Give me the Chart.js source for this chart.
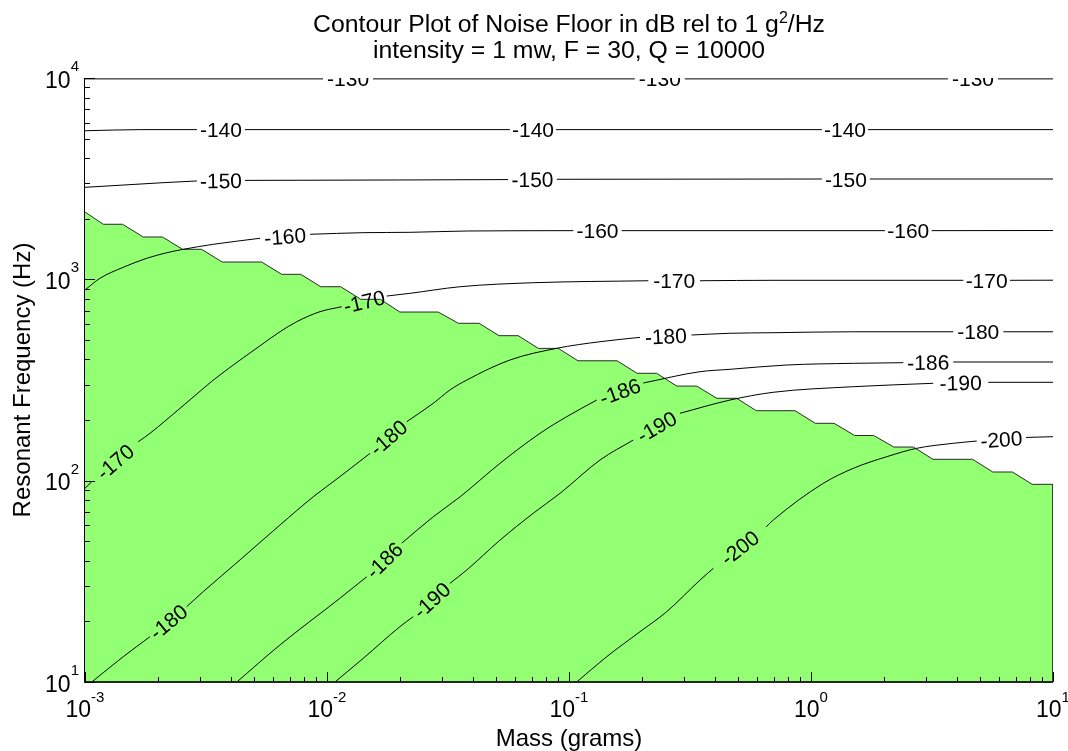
<!DOCTYPE html>
<html>
<head>
<meta charset="utf-8">
<script src="https://cdn.jsdelivr.net/npm/chart.js@4.4.0/dist/chart.umd.min.js"></script>
<style>
  html, body { margin: 0; padding: 0; background: #ffffff; }
  canvas { display: block; }
</style>
</head>
<body>
<canvas id="c" width="1068" height="751"></canvas>
<script>
// ---------------- text ----------------
const titleLine1 = ['Contour Plot of Noise Floor in dB rel to 1 g', '2', '/Hz'];
const titleLine2 = 'intensity = 1 mw, F = 30, Q = 10000';
const xAxisTitle = 'Mass (grams)';
const yAxisTitle = 'Resonant Frequency (Hz)';

// ---------------- axis ticks ----------------
const xTickValues = [0.001, 0.01, 0.1, 1, 10];
const xTickExponents = ['-3', '-2', '-1', '0', '1'];
const yTickValues = [10, 100, 1000, 10000];
const yTickExponents = ['1', '2', '3', '4'];

// ---------------- shaded (green) region boundary ----------------
const regionMass = [0.001, 0.00119, 0.00143, 0.00174, 0.00209, 0.00253, 0.00303, 0.00369, 0.00537, 0.0065,
  0.00779, 0.00942, 0.01139, 0.0138, 0.0166, 0.02, 0.0288, 0.0349, 0.0425, 0.0514,
  0.0617, 0.0747, 0.0903, 0.1089, 0.158, 0.191, 0.230, 0.279, 0.337, 0.408,
  0.493, 0.594, 0.859, 1.042, 1.245, 1.516, 1.816, 2.20, 2.65, 3.19,
  4.65, 5.64, 6.80, 8.20, 10, 10];
const regionFreq = [2160, 1877, 1877, 1623, 1623, 1410, 1410, 1219, 1219, 1059,
  1059, 919, 919, 796, 796, 688, 688, 605, 605, 525,
  525, 454, 454, 394, 394, 341.5, 341.5, 295, 295, 256.6,
  256.6, 222.6, 222.6, 192.7, 192.7, 167.6, 167.6, 146.9, 146.9, 127.7,
  127.7, 110.4, 110.4, 95.9, 95.9, 10];

// ---------------- contour lines: [mass, frequency], null = label gap ----------------
const contourLevels = [-130, -140, -150, -160, -170, -180, -186, -190, -200];
const c130 = [[0.001, 9900], [0.00963, 9900], null, [0.0155, 9900], [0.187, 9900], null, [0.301, 9900], [3.68, 9900], null, [5.93, 9900], [10, 9900]];
const c140 = [[0.001, 5470], [0.00169, 5540], [0.0029, 5540], null, [0.00458, 5540], [0.057, 5540], null, [0.0884, 5540], [1.11, 5540], null, [1.72, 5540], [10, 5540]];
const c150 = [[0.001, 2865], [0.0021, 3020], [0.0029, 3080], null, [0.00458, 3100], [0.02, 3115], [0.056, 3130], null, [0.0891, 3140], [1.11, 3150], null, [1.75, 3150], [10, 3150]];
const c160 = [[0.001, 885], [0.001153, 1012], [0.00144, 1148], [0.0018, 1272], [0.00218, 1356], [0.00255, 1410], [0.00339, 1493], [0.00529, 1599], null,
  [0.00851, 1674], [0.0141, 1705], [0.022, 1712], [0.0378, 1738], [0.1042, 1745], null, [0.165, 1745], [2.02, 1745], null, [3.15, 1745], [10, 1748]];
const c170 = [[0.001, 91.6], [0.001066, 98.8], null, [0.00166, 156.1], [0.001856, 171.9], [0.00247, 228.8], [0.00303, 282], [0.00339, 316],
  [0.00451, 408], [0.00529, 468], [0.00639, 549], [0.0075, 616], [0.00936, 691], [0.0115, 731], null, [0.01765, 826], [0.022, 852], [0.0355, 919],
  [0.0712, 962], [0.2127, 984], null, [0.348, 984], [0.697, 989], [4.26, 989], null, [6.64, 989], [10, 990]];
const c180 = [[0.001066, 10], [0.00144, 13.36], [0.001856, 16.79], null, [0.00263, 23.66], [0.00308, 28.1], [0.00437, 40.4], [0.00639, 60.2], [0.00878, 83.2],
  [0.0113, 104.6], [0.01506, 136.7], null, [0.02135, 196.3], [0.0275, 242.3], [0.0322, 282], [0.0378, 316], [0.057, 397.4], [0.089, 454.4], [0.1343, 490],
  [0.1966, 515], null, [0.321, 529], [0.463, 539.6], [0.697, 543], [1.496, 549], [3.87, 549], null, [6.23, 549], [10, 549]];
const c186 = [[0.00424, 10], [0.00639, 15.27], [0.0113, 26.04], [0.01459, 33.3], null, [0.02035, 48.9], [0.0275, 66.2], [0.0355, 83.2], [0.0519, 122],
  [0.0759, 171.9], [0.0978, 207.8], [0.1302, 251.5], null, [0.2028, 305.6], [0.348, 347.8], [0.463, 357.4], [0.794, 375.4], [1.496, 382.7], [2.407, 385.4], null,
  [3.87, 388.5], [10, 388.5]];
const c190 = [[0.01079, 10], [0.01413, 13.12], [0.02, 18.82], [0.0227, 21.1], null, [0.0322, 30.9], [0.0378, 36], [0.0519, 50.7], [0.0712, 68.9], [0.0918, 86.5],
  [0.1343, 126.6], [0.1844, 159.2], null, [0.2875, 216.1], [0.463, 251.5], [0.699, 274.8], [1.496, 292.9], [3.2, 304.5], null, [5.4, 308], [10, 308]];
const c200 = [[0.1076, 10], [0.1432, 13.36], [0.1966, 17.78], [0.2533, 22.34], [0.348, 32.1], [0.395, 36.7], null, [0.652, 58.9], [0.699, 63.8], [1.124, 97],
  [1.496, 115.2], [2.055, 131.5], [2.735, 144.8], [3.87, 153.3], [4.84, 157.4], null, [7.73, 163.9], [10, 165.4]];

const contourPoints = [c130, c140, c150, c160, c170, c180, c186, c190, c200];

// ---------------- styling ----------------
const FONT = '"Liberation Sans", Arial, Helvetica, sans-serif';
const GREEN = 'rgb(147,255,114)';

const datasets = contourPoints.map((pts, k) => ({
  label: String(contourLevels[k]),
  data: pts.map(p => p ? { x: p[0], y: p[1] } : { x: null, y: null }),
  showLine: true,
  borderColor: '#000000',
  borderWidth: 1,
  pointRadius: 0,
  fill: false,
  spanGaps: false,
  cubicInterpolationMode: 'monotone',
  order: 0
}));
datasets.push({
  label: 'region',
  data: regionMass.map((m, i) => ({ x: m, y: regionFreq[i] })),
  showLine: true,
  borderColor: '#2a2a2a',
  borderWidth: 1,
  backgroundColor: GREEN,
  fill: 'start',
  pointRadius: 0,
  tension: 0,
  order: 1
});

const decor = {
  id: 'decor',
  afterDatasetsDraw(chart) {
    const ctx = chart.ctx, xs = chart.scales.x, ys = chart.scales.y, a = chart.chartArea;
    ctx.save();
    ctx.beginPath();
    ctx.rect(a.left, a.top, a.right - a.left, a.bottom - a.top);
    ctx.clip();
    ctx.font = '21px ' + FONT;
    ctx.fillStyle = '#000';
    ctx.textAlign = 'center';
    ctx.textBaseline = 'alphabetic';
    contourPoints.forEach((pts, k) => {
      for (let i = 1; i < pts.length - 1; i++) {
        if (pts[i] !== null) continue;
        const p = pts[i - 1], q = pts[i + 1];
        const x1 = xs.getPixelForValue(p[0]), y1 = ys.getPixelForValue(p[1]);
        const x2 = xs.getPixelForValue(q[0]), y2 = ys.getPixelForValue(q[1]);
        ctx.save();
        ctx.translate((x1 + x2) / 2, (y1 + y2) / 2);
        ctx.rotate(Math.atan2(y2 - y1, x2 - x1));
        ctx.fillText(String(contourLevels[k]), 0, 7.5);
        ctx.restore();
      }
    });
    ctx.restore();
  },
  afterDraw(chart) {
    const ctx = chart.ctx, xs = chart.scales.x, ys = chart.scales.y, a = chart.chartArea;
    ctx.save();
    // axis lines
    ctx.strokeStyle = '#000';
    ctx.lineWidth = 1;
    ctx.beginPath();
    ctx.moveTo(a.left - 0.5, a.top);
    ctx.lineTo(a.left - 0.5, a.bottom + 1);
    ctx.stroke();
    ctx.strokeStyle = '#262626';
    ctx.lineWidth = 2;
    ctx.beginPath();
    ctx.moveTo(a.left - 1, a.bottom);
    ctx.lineTo(a.right, a.bottom);
    ctx.stroke();
    // ticks (inward)
    ctx.strokeStyle = '#000';
    ctx.lineWidth = 1;
    ctx.beginPath();
    xTickValues.forEach((v, i) => {
      const px = Math.round(xs.getPixelForValue(v)) + 0.5;
      ctx.moveTo(px, a.bottom); ctx.lineTo(px, a.bottom - 10);
      if (i < xTickValues.length - 1) {
        for (let m = 2; m <= 9; m++) {
          const mx = Math.round(xs.getPixelForValue(v * m)) + 0.5;
          ctx.moveTo(mx, a.bottom); ctx.lineTo(mx, a.bottom - 5);
        }
      }
    });
    yTickValues.forEach((v, i) => {
      const py = Math.round(ys.getPixelForValue(v)) + 0.5;
      ctx.moveTo(a.left, py); ctx.lineTo(a.left + 10, py);
      if (i < yTickValues.length - 1) {
        for (let m = 2; m <= 9; m++) {
          const my = Math.round(ys.getPixelForValue(v * m)) + 0.5;
          ctx.moveTo(a.left, my); ctx.lineTo(a.left + 5, my);
        }
      }
    });
    ctx.stroke();

    // tick labels
    ctx.fillStyle = '#000';
    ctx.textBaseline = 'alphabetic';
    ctx.textAlign = 'left';
    const baseFont = '23px ' + FONT, supFont = '15px ' + FONT;
    xTickValues.forEach((v, i) => {
      const px = xs.getPixelForValue(v);
      ctx.font = baseFont; const wb = ctx.measureText('10').width;
      ctx.font = supFont; const ws = ctx.measureText(xTickExponents[i]).width;
      const x0 = px - (wb + ws) / 2;
      ctx.font = baseFont; ctx.fillText('10', x0, a.bottom + 35);
      ctx.font = supFont; ctx.fillText(xTickExponents[i], x0 + wb, a.bottom + 20);
    });
    yTickValues.forEach((v, i) => {
      const py = ys.getPixelForValue(v);
      ctx.font = baseFont; const wb = ctx.measureText('10').width;
      ctx.font = supFont; const ws = ctx.measureText(yTickExponents[i]).width;
      const x0 = a.left - 6 - ws - wb;
      ctx.font = baseFont; ctx.fillText('10', x0, py + 9.5);
      ctx.font = supFont; ctx.fillText(yTickExponents[i], x0 + wb, py - 7);
    });

    // axis titles
    ctx.font = '24px ' + FONT;
    ctx.textAlign = 'center';
    const cx = (a.left + a.right) / 2;
    ctx.fillText(xAxisTitle, cx, 746);
    ctx.save();
    ctx.translate(30, (a.top + a.bottom) / 2);
    ctx.rotate(-Math.PI / 2);
    ctx.fillText(yAxisTitle, 0, 0);
    ctx.restore();

    // title
    ctx.textAlign = 'left';
    const tf = '24.8px ' + FONT, tsf = '16px ' + FONT;
    ctx.font = tf;
    const w1 = ctx.measureText(titleLine1[0]).width, w3 = ctx.measureText(titleLine1[2]).width;
    ctx.font = tsf;
    const w2 = ctx.measureText(titleLine1[1]).width;
    let tx = cx - (w1 + w2 + w3) / 2;
    ctx.font = tf; ctx.fillText(titleLine1[0], tx, 31.5);
    ctx.font = tsf; ctx.fillText(titleLine1[1], tx + w1, 23);
    ctx.font = tf; ctx.fillText(titleLine1[2], tx + w1 + w2, 31.5);
    ctx.textAlign = 'center';
    ctx.fillText(titleLine2, cx, 58);
    ctx.restore();
  }
};

new Chart(document.getElementById('c'), {
  type: 'scatter',
  data: { datasets },
  options: {
    responsive: false,
    devicePixelRatio: 1,
    animation: false,
    events: [],
    layout: { padding: { left: 85, right: 15, top: 78, bottom: 69 } },
    plugins: { legend: { display: false }, tooltip: { enabled: false }, title: { display: false } },
    scales: {
      x: { type: 'logarithmic', min: 0.001, max: 10, display: false },
      y: { type: 'logarithmic', min: 10, max: 10000, display: false }
    }
  },
  plugins: [decor]
});
</script>
</body>
</html>
